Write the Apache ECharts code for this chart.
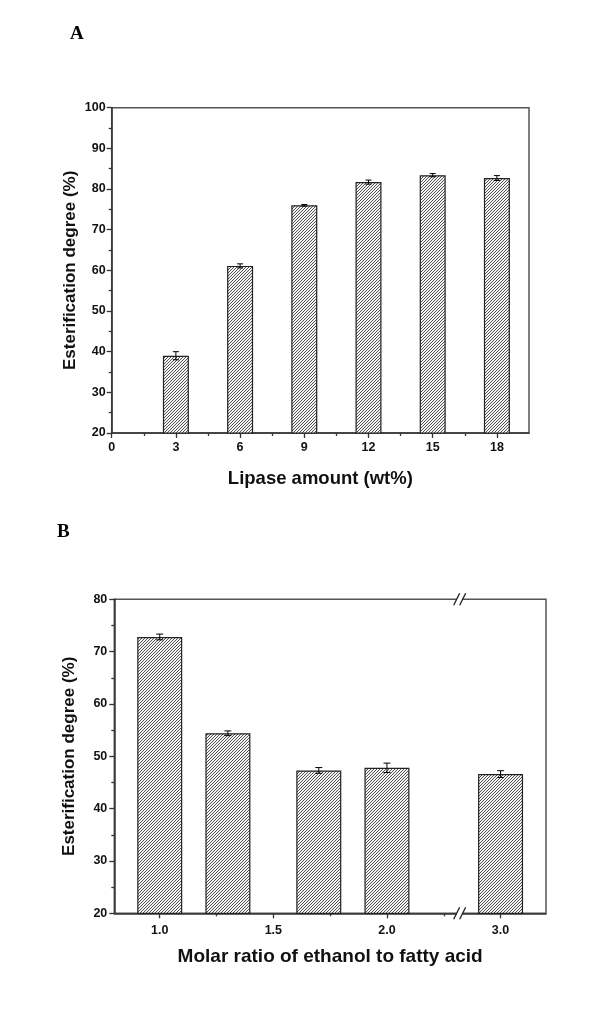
<!DOCTYPE html>
<html><head><meta charset="utf-8">
<script src="https://cdn.jsdelivr.net/npm/echarts@6/dist/echarts.min.js"></script>
<style>html,body{margin:0;padding:0;background:#fff}#c{width:600px;height:1016px}</style>
</head><body><div id="c"></div>
<script>
// Panel A data
const lipaseAmount = [3, 6, 9, 12, 15, 18];
const esterA = [39.0, 61.1, 76.0, 81.7, 83.4, 82.7];
const errA = [1.0, 0.5, 0.2, 0.5, 0.4, 0.6];
const ticksA = [0, 3, 6, 9, 12, 15, 18];
const minorTicksA = [1.5, 4.5, 7.5, 10.5, 13.5, 16.5];
// Panel B data
const molarRatio = [1.0, 1.3, 1.7, 2.0, 3.0];
const esterB = [72.8, 54.4, 47.3, 47.8, 46.6];
const errB = [0.55, 0.45, 0.55, 0.9, 0.65];
const ticksB = [1.0, 1.5, 2.0, 3.0];
const minorTicksB = [1.25, 1.75, 2.25];

// broken x axis for panel B: values above the break are shifted left by 0.5
const BREAK_FROM = 2.3, BREAK_SHIFT = 0.5;
const toDisp = v => v > BREAK_FROM ? v - BREAK_SHIFT : v;
const toReal = d => d > BREAK_FROM ? d + BREAK_SHIFT : d;

function hatch() {
  const c = document.createElement('canvas');
  c.width = 6; c.height = 6;
  const g = c.getContext('2d');
  g.fillStyle = '#f4f4f4'; g.fillRect(0, 0, 6, 6);
  g.strokeStyle = '#4a4a4a'; g.lineWidth = 0.95;
  for (const k of [-6, -3, 0, 3, 6]) { g.beginPath(); g.moveTo(k, 6); g.lineTo(k + 6, 0); g.stroke(); }
  return c;
}
const pattern = { image: hatch(), repeat: 'repeat' };

const font = 'Liberation Sans, Arial, sans-serif';
const lbl = { fontFamily: font, fontWeight: 'bold', fontSize: 12.5, color: '#111' };

function errRender(capW) {
  return function (params, api) {
    const x = api.value(0), lo = api.value(1), hi = api.value(2);
    const a = api.coord([x, hi]), b = api.coord([x, lo]);
    const st = { stroke: '#000', lineWidth: 1 };
    return { type: 'group', children: [
      { type: 'line', shape: { x1: a[0], y1: a[1], x2: b[0], y2: b[1] }, style: st },
      { type: 'line', shape: { x1: a[0] - capW / 2, y1: a[1], x2: a[0] + capW / 2, y2: a[1] }, style: st },
      { type: 'line', shape: { x1: b[0] - capW / 2, y1: b[1], x2: b[0] + capW / 2, y2: b[1] }, style: st }
    ] };
  };
}

const chart = echarts.init(document.getElementById('c'), null, { renderer: 'canvas' });
const axisLine = { show: true, lineStyle: { color: '#333', width: 1.5 } };
const tick = (vals, len) => ({ show: true, inside: false, length: len, customValues: vals, lineStyle: { color: '#333', width: 1.3 } });

chart.setOption({
  animation: false,
  graphic: [
    { type: 'text', left: 70, top: 25, style: { text: 'A', font: 'bold 19px "Liberation Serif", "Times New Roman", serif', fill: '#000' } },
    { type: 'text', left: 57, top: 523, style: { text: 'B', font: 'bold 19px "Liberation Serif", "Times New Roman", serif', fill: '#000' } }
  ],
  grid: [
    { left: 111.7, top: 107.7, width: 417.3, height: 325.3, show: true, borderColor: '#555', borderWidth: 1.5, backgroundColor: 'transparent' },
    { left: 114.3, top: 599.3, width: 431.7, height: 314, show: true, borderColor: '#555', borderWidth: 1.5, backgroundColor: 'transparent' }
  ],
  xAxis: [
    { gridIndex: 0, type: 'value', position: 'bottom', min: 0, max: 19.5, axisLine, splitLine: { show: false },
      axisTick: tick(ticksA, 5),
      axisLabel: Object.assign({ customValues: ticksA, margin: 8 }, lbl),
      name: 'Lipase amount (wt%)', nameLocation: 'middle', nameGap: 36, nameMoveOverlap: false,
      nameTextStyle: { fontFamily: font, fontWeight: 'bold', fontSize: 18.5, color: '#111' } },
    { gridIndex: 0, type: 'value', position: 'bottom', min: 0, max: 19.5, axisLine: { show: false }, splitLine: { show: false },
      axisTick: tick(minorTicksA, 3), axisLabel: { show: false } },
    { gridIndex: 1, type: 'value', position: 'bottom', min: 0.8, max: 2.7, axisLine, splitLine: { show: false },
      axisTick: tick(ticksB.map(toDisp), 5),
      axisLabel: Object.assign({ customValues: ticksB.map(toDisp), margin: 11,
        formatter: v => toReal(v).toFixed(1) }, lbl),
      name: 'Molar ratio of ethanol to fatty acid', nameLocation: 'middle', nameGap: 34, nameMoveOverlap: false,
      nameTextStyle: { fontFamily: font, fontWeight: 'bold', fontSize: 19, color: '#111' } },
    { gridIndex: 1, type: 'value', position: 'bottom', min: 0.8, max: 2.7, axisLine: { show: false }, splitLine: { show: false },
      axisTick: tick(minorTicksB, 3), axisLabel: { show: false } }
  ],
  yAxis: [
    { gridIndex: 0, type: 'value', min: 20, max: 100, interval: 10, axisLine, splitLine: { show: false },
      axisTick: { show: true, inside: false, length: 5, lineStyle: { color: '#333', width: 1.3 } },
      minorTick: { show: true, splitNumber: 2, length: 3, lineStyle: { color: '#333', width: 1.3 } },
      axisLabel: Object.assign({ margin: 6 }, lbl),
      name: 'Esterification degree (%)', nameLocation: 'middle', nameGap: 33, nameRotate: 90, nameMoveOverlap: false,
      nameTextStyle: { fontFamily: font, fontWeight: 'bold', fontSize: 17, color: '#111' } },
    { gridIndex: 1, type: 'value', min: 20, max: 80, interval: 10, axisLine, splitLine: { show: false },
      axisTick: { show: true, inside: false, length: 5, lineStyle: { color: '#333', width: 1.3 } },
      minorTick: { show: true, splitNumber: 2, length: 3, lineStyle: { color: '#333', width: 1.3 } },
      axisLabel: Object.assign({ margin: 7 }, lbl),
      name: 'Esterification degree (%)', nameLocation: 'middle', nameGap: 36, nameRotate: 90, nameMoveOverlap: false,
      nameTextStyle: { fontFamily: font, fontWeight: 'bold', fontSize: 17, color: '#111' } }
  ],
  series: [
    { type: 'bar', xAxisIndex: 0, yAxisIndex: 0, barWidth: 26,
      data: lipaseAmount.map((x, i) => [x, esterA[i]]),
      itemStyle: { color: pattern, borderColor: '#222', borderWidth: 1.2 } },
    { type: 'custom', xAxisIndex: 0, yAxisIndex: 0, renderItem: errRender(6),
      encode: { x: 0, y: [1, 2] },
      data: lipaseAmount.map((x, i) => [x, esterA[i] - errA[i], esterA[i] + errA[i]]), z: 5 },
    { type: 'bar', xAxisIndex: 2, yAxisIndex: 1, barWidth: 45,
      data: molarRatio.map((x, i) => [toDisp(x), esterB[i]]),
      itemStyle: { color: pattern, borderColor: '#222', borderWidth: 1.2 } },
    { type: 'custom', xAxisIndex: 2, yAxisIndex: 1, renderItem: errRender(7),
      encode: { x: 0, y: [1, 2] },
      data: molarRatio.map((x, i) => [toDisp(x), esterB[i] - errB[i], esterB[i] + errB[i]]), z: 5 },
    { type: 'custom', xAxisIndex: 2, yAxisIndex: 1, z: 10, silent: true,
      encode: { x: 0, y: 1 }, data: [[2.32, 20]],
      renderItem: function (params, api) {
        const top = api.coord([api.value(0), 80]);
        const bot = api.coord([api.value(0), 20]);
        const kids = [];
        for (const p of [top, bot]) {
          kids.push({ type: 'rect', shape: { x: p[0] - 3, y: p[1] - 2, width: 6, height: 4 }, style: { fill: '#fff' } });
          for (const dx of [-3, 3]) {
            kids.push({ type: 'line', shape: { x1: p[0] + dx - 3, y1: p[1] + 6, x2: p[0] + dx + 3, y2: p[1] - 6 },
              style: { stroke: '#222', lineWidth: 1.3 } });
          }
        }
        return { type: 'group', children: kids };
      } }
  ]
});
</script></body></html>
